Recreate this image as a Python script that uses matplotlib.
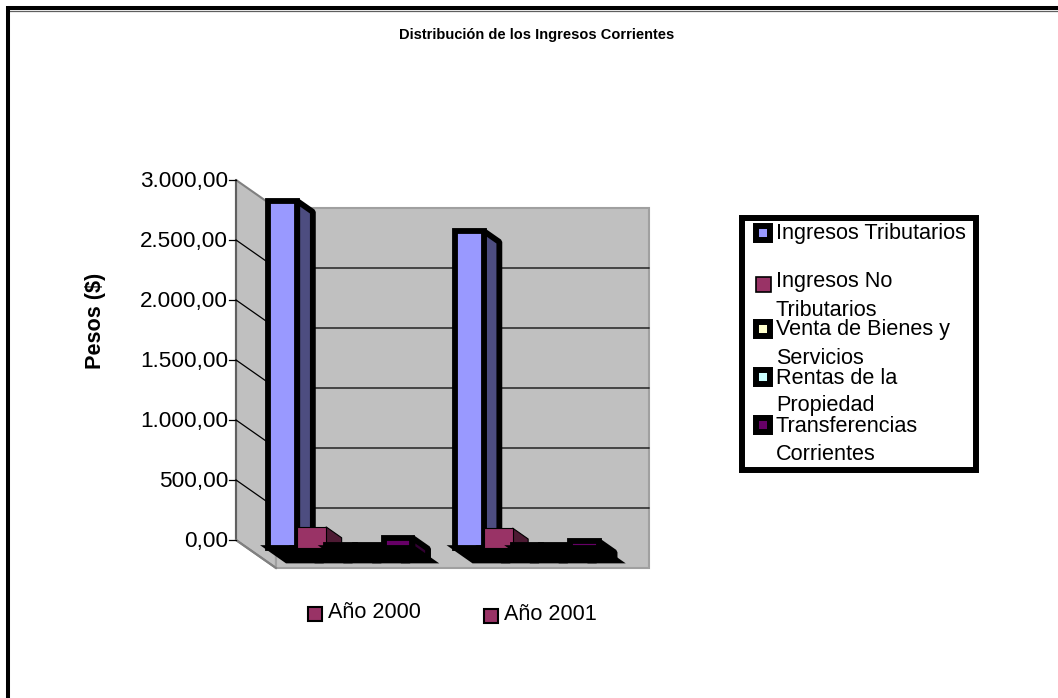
"""Distribucion de los ingresos corrientes, old spreadsheet-style 3D column chart."""

import matplotlib

matplotlib.use("Agg")
import matplotlib.pyplot as plt
from matplotlib.patches import Polygon, Rectangle

plt.rcParams["font.family"] = ["Liberation Sans", "DejaVu Sans"]

TITLE = "Distribución de los Ingresos Corrientes"
Y_LABEL = "Pesos ($)"
YEARS = ["Año 2000", "Año 2001"]
SERIES = [
    ["Ingresos Tributarios"],
    ["Ingresos No", "Tributarios"],
    ["Venta de Bienes y", "Servicios"],
    ["Rentas de la", "Propiedad"],
    ["Transferencias", "Corrientes"],
]
TICKS = [0, 500, 1000, 1500, 2000, 2500, 3000]
TICK_LABELS = ["0,00", "500,00", "1.000,00", "1.500,00", "2.000,00", "2.500,00", "3.000,00"]

# one list per series, [2000, 2001]
tributarios = [2890, 2640]
no_tributarios = [175, 165]
venta_bienes = [25, 25]
rentas = [25, 25]
transferencias = [83, 54]

COLORS = ["#9999FF", "#993366", "#FFFFCC", "#CCFFFF", "#660066"]
SIDE_COLORS = ["#4D4D80", "#4D1A33", "#808066", "#668080", "#330033"]
EDGE_W = [4.2, 0.8, 4.2, 4.2, 4.2]

W, H = 1058, 698
# chart box in pixels: front-left corner of the floor and the depth shift
X0, Y0 = 236, 540
DEPTH_X, DEPTH_Y = 40, 28
PX_PER_UNIT = 360 / 3000
PLOT_W = 373
BAR_W = 28.8
BAR_D0, BAR_D1 = 0.28, 0.67
BASE_D1 = 0.74
FONT = 15.6

fig = plt.figure(figsize=(W / 100, H / 100), dpi=100)
ax = fig.add_axes([0, 0, 1, 1])
ax.set_xlim(0, W)
ax.set_ylim(H, 0)
ax.axis("off")


def project(x, value, d):
    """x along the floor, value up the wall, d = 0 front .. 1 back."""
    return (X0 + x + d * DEPTH_X, Y0 - value * PX_PER_UNIT + d * DEPTH_Y)


def poly(points, **kw):
    ax.add_patch(Polygon(points, closed=True, **kw))


# outer frame: only the top and left edges are in the picture
ax.plot([8, W], [10.5, 10.5], color="#606060", lw=0.9, zorder=0, solid_capstyle="butt")
ax.plot([8, W], [8, 8], color="black", lw=2.9, zorder=1, solid_capstyle="butt")
ax.plot([8, 8], [6, H], color="black", lw=2.9, zorder=1, solid_capstyle="butt")

# walls
top = TICKS[-1]
poly([project(0, 0, 0), project(0, top, 0), project(0, top, 1), project(0, 0, 1)],
     fc="#C0C0C0", ec="#808080", lw=1.5, zorder=1)
poly([project(0, 0, 1), project(0, top, 1), project(PLOT_W, top, 1), project(PLOT_W, 0, 1)],
     fc="#C0C0C0", ec="#A0A0A0", lw=1.5, zorder=1)
x0, y0 = project(0, 0, 0)
x1, y1 = project(0, top, 0)
ax.plot([x0, x1], [y0, y1], color="#606060", lw=1.5, zorder=2)
a, b = project(0, 0, 0), project(0, 0, 1)
ax.plot([a[0], b[0]], [a[1], b[1]], color="#808080", lw=1.5, zorder=2)

# gridlines and ticks
for tick, label in zip(TICKS, TICK_LABELS):
    a, b, c = project(0, tick, 0), project(0, tick, 1), project(PLOT_W, tick, 1)
    if 0 < tick < top:
        ax.plot([a[0], b[0], c[0]], [a[1], b[1], c[1]], color="black", lw=0.9, zorder=2)
    ax.plot([a[0] - 7, a[0]], [a[1], a[1]], color="black", lw=0.9, zorder=2)
    ax.text(a[0] - 8, a[1] + 1, label, ha="right", va="center", fontsize=16.2, zorder=5)

# bars, left to right within each year; seen from below, so no top face
all_series = [tributarios, no_tributarios, venta_bienes, rentas, transferencias]
group_w = PLOT_W / len(YEARS)
gap = group_w - BAR_W * len(SERIES)
z = 3
for i in range(len(YEARS)):
    for j, values in enumerate(all_series):
        left = i * group_w + gap / 2 + j * BAR_W
        right = left + BAR_W
        v = values[i]
        poly([project(left, 0, BAR_D0), project(right, 0, BAR_D0),
              project(right, 0, BASE_D1), project(left, 0, BASE_D1)],
             fc="black", ec="black", lw=3.8, joinstyle="miter", zorder=z)
        poly([project(right, 0, BAR_D0), project(right, v, BAR_D0),
              project(right, v, BAR_D1), project(right, 0, BAR_D1)],
             fc=SIDE_COLORS[j], ec="black", lw=EDGE_W[j], joinstyle="bevel", zorder=z)
        poly([project(left, 0, BAR_D0), project(right, 0, BAR_D0),
              project(right, v, BAR_D0), project(left, v, BAR_D0)],
             fc=COLORS[j], ec="black", lw=EDGE_W[j], joinstyle="miter", zorder=z)
        z += 1

# y axis title and chart title
ax.text(96, 321, Y_LABEL, rotation=90, ha="center", va="center", fontsize=FONT, fontweight="bold")
ax.text(537, 35, TITLE, ha="center", va="center", fontsize=10.5, fontweight="bold")

# category labels sit in little legend-like keys under the chart
cat_x = [314.5, 490.5]
cat_y = [613.5, 615.5]
for x, y, year in zip(cat_x, cat_y, YEARS):
    ax.add_patch(Rectangle((x - 7, y - 7), 14, 14, fc="#993366", ec="black", lw=1.5, zorder=6))
    ax.text(x + 13.5, y - 1.5, year, ha="left", va="center", fontsize=FONT, zorder=6)

# series legend
ax.add_patch(Rectangle((742, 218), 234, 252, fc="white", ec="black", lw=4.3, zorder=6))
key_y = [233, 284, 329, 377, 425]
text_y = [234, 282, 330, 378, 426]
LINE_STEP = 28
for j, lines in enumerate(SERIES):
    lw = 1.2 if j == 1 else 4.3
    size = 15 if j == 1 else 14
    ax.add_patch(Rectangle((763 - size / 2, key_y[j] - size / 2), size, size,
                           fc=COLORS[j], ec="black", lw=lw, zorder=7))
    for k, line in enumerate(lines):
        ax.text(776, text_y[j] + k * LINE_STEP, line, ha="left", va="center",
                fontsize=FONT, zorder=7)

fig.savefig("out.png", dpi=100)
